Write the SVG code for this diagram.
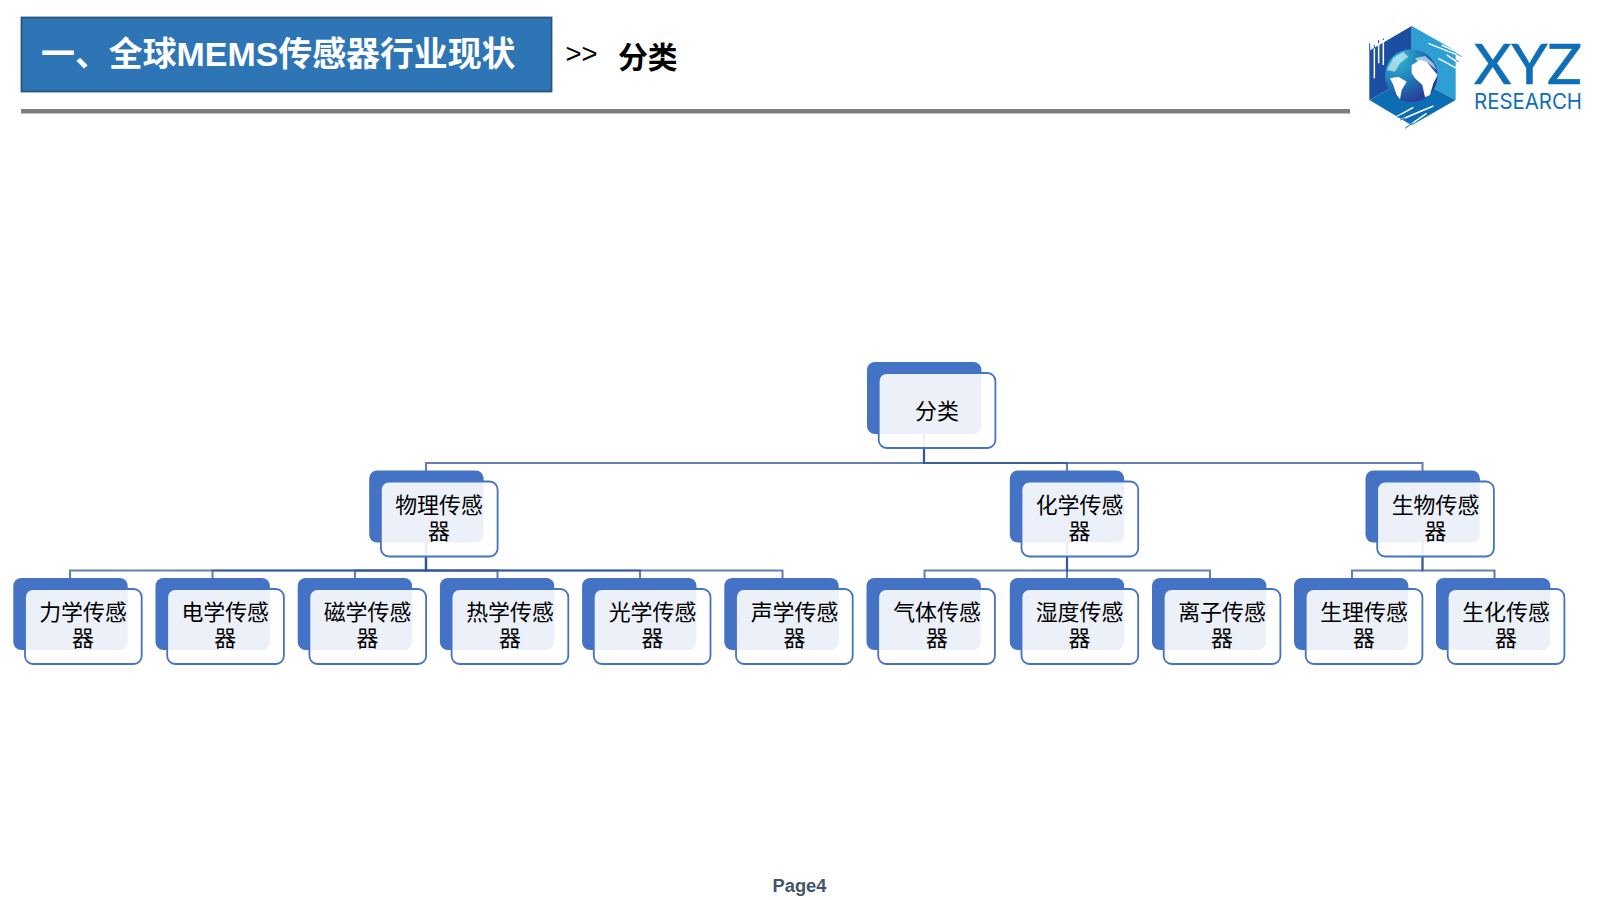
<svg xmlns="http://www.w3.org/2000/svg" width="1600" height="900" viewBox="0 0 1600 900">
<style>
text{font-family:"Liberation Sans","Noto Sans CJK SC",sans-serif}
.back{fill:#4472c4}
.front{fill:#fff;fill-opacity:.9;stroke:#4472c4;stroke-width:1.8}
.t{font-family:"Noto Sans CJK SC","Liberation Sans",sans-serif;font-size:21.9px;fill:#000;text-anchor:middle}
.e{fill:none;stroke:#2f5597;stroke-opacity:.75;stroke-width:2.1}
</style>
<defs>
<g id="lv"><rect class="back" width="114.4" height="72" rx="8"/><rect class="front" x="11.7" y="11" width="116.7" height="75" rx="8"/></g>
<radialGradient id="globe" cx=".2" cy=".15" r="1.05"><stop offset="0" stop-color="#35bfd2"/><stop offset=".5" stop-color="#1d76b6"/><stop offset="1" stop-color="#30278c"/></radialGradient>
</defs>
<rect width="1600" height="900" fill="#fff"/>
<g id="header">
<rect x="21.500" y="17.500" width="530" height="74" fill="#2e75b6" stroke="#27577f" stroke-width="1.800"/>
<text x="41" y="66" font-size="33.900" font-weight="700" fill="#fff">一、全球MEMS传感器行业现状</text>
<text x="565.500" y="63" font-size="27.500" fill="#000">&gt;&gt;</text>
<text x="618" y="68" font-size="29.800" font-weight="700" fill="#000">分类</text>
<rect x="21" y="109" width="1329" height="4.500" fill="#7f7f7f"/>
</g>
<g id="logo">
<g transform="translate(1365 20) scale(.3333)">
<path d="M140 18L13 92V240L140 170Z" fill="#1c4fa3"/>
<path d="M140 18L272 92V240L140 170Z" fill="#2d9fd4"/>
<path d="M13 240L140 170L272 240L140 316Z" fill="#0d6db4"/>
<circle cx="139" cy="167" r="79" fill="url(#globe)"/>
<path d="M140 135L165 120L185 125L205 150L218 165L205 190L195 225L180 232L172 195L150 175L140 160Z" fill="#fff"/>
<path d="M75 175L100 170L125 185L110 210L105 238L95 225L85 195Z" fill="#fff"/>
<path d="M65 150L85 115L115 95L130 110L105 130L90 155Z" fill="#fff" fill-opacity=".55"/>
<path d="M150 115L180 108L205 130L215 150L190 130L160 128Z" fill="#fff" fill-opacity=".6"/>
<g fill="none" stroke="#fff" stroke-width="4.500">
<path d="M28 85V175M41 70V130M55 60V135"/>
<path d="M190 70L290 110M230 75L285 100M220 115L275 145M245 105L275 125"/>
<path d="M95 290L145 262M105 300L205 258M120 325L185 280"/>
</g>
<g fill="none" stroke-width="3">
<path d="M14 70V92M28 75V85M41 60V70M55 55V60" stroke="#1c4fa3"/>
<path d="M272 100L290 110M272 120L282 125" stroke="#2d9fd4"/>
<path d="M96 292L110 285M120 325L145 308M106 300L120 294" stroke="#0d6db4"/>
</g>
</g>
<text x="1474" y="84" font-size="57" fill="#0e6eb8" stroke="#0e6eb8" stroke-width="0.700" textLength="108" lengthAdjust="spacingAndGlyphs" style="font-family:Lato,sans-serif">XYZ</text>
<text x="1474" y="109" font-size="21" fill="#0e6eb8" textLength="108" lengthAdjust="spacingAndGlyphs" style="font-family:Inter,sans-serif">RESEARCH</text>
</g>
<g id="connectors">
<path class="e" d="M924 434V463H426V471"/>
<path class="e" d="M924 434V463H1067V471"/>
<path class="e" d="M924 434V463H1422.500V471"/>
<path class="e" d="M426 542V570.500H70V578"/>
<path class="e" d="M426 542V570.500H212.500V578"/>
<path class="e" d="M426 542V570.500H355V578"/>
<path class="e" d="M426 542V570.500H497.500V578"/>
<path class="e" d="M426 542V570.500H640V578"/>
<path class="e" d="M426 542V570.500H782.500V578"/>
<path class="e" d="M1067 542V570.500H924.500V578"/>
<path class="e" d="M1067 542V578"/>
<path class="e" d="M1067 542V570.500H1210V578"/>
<path class="e" d="M1422.500 542V570.500H1352V578"/>
<path class="e" d="M1422.500 542V570.500H1494.500V578"/>
</g>
<g id="n-root"><use href="#lv" x="867" y="362"/><text class="t" x="937" y="418.500">分类</text></g>
<g id="n-phys"><use href="#lv" x="369.200" y="470.500"/><text class="t" x="439" y="513">物理传感</text><text class="t" x="439" y="539">器</text></g>
<g id="n-chem"><use href="#lv" x="1009.800" y="470.500"/><text class="t" x="1079.500" y="513">化学传感</text><text class="t" x="1079.500" y="539">器</text></g>
<g id="n-bio"><use href="#lv" x="1365.500" y="470.500"/><text class="t" x="1435.500" y="513">生物传感</text><text class="t" x="1435.500" y="539">器</text></g>
<g id="n-1"><use href="#lv" x="13.300" y="578"/><text class="t" x="83" y="620">力学传感</text><text class="t" x="83" y="646">器</text></g>
<g id="n-2"><use href="#lv" x="155.500" y="578"/><text class="t" x="225.200" y="620">电学传感</text><text class="t" x="225.200" y="646">器</text></g>
<g id="n-3"><use href="#lv" x="297.700" y="578"/><text class="t" x="367.500" y="620">磁学传感</text><text class="t" x="367.500" y="646">器</text></g>
<g id="n-4"><use href="#lv" x="439.900" y="578"/><text class="t" x="510" y="620">热学传感</text><text class="t" x="510" y="646">器</text></g>
<g id="n-5"><use href="#lv" x="582.100" y="578"/><text class="t" x="652.500" y="620">光学传感</text><text class="t" x="652.500" y="646">器</text></g>
<g id="n-6"><use href="#lv" x="724.300" y="578"/><text class="t" x="794.500" y="620">声学传感</text><text class="t" x="794.500" y="646">器</text></g>
<g id="n-7"><use href="#lv" x="866.500" y="578"/><text class="t" x="937" y="620">气体传感</text><text class="t" x="937" y="646">器</text></g>
<g id="n-8"><use href="#lv" x="1009.800" y="578"/><text class="t" x="1079.500" y="620">湿度传感</text><text class="t" x="1079.500" y="646">器</text></g>
<g id="n-9"><use href="#lv" x="1152" y="578"/><text class="t" x="1222" y="620">离子传感</text><text class="t" x="1222" y="646">器</text></g>
<g id="n-10"><use href="#lv" x="1294" y="578"/><text class="t" x="1364" y="620">生理传感</text><text class="t" x="1364" y="646">器</text></g>
<g id="n-11"><use href="#lv" x="1436" y="578"/><text class="t" x="1506" y="620">生化传感</text><text class="t" x="1506" y="646">器</text></g>
<text id="page" x="799.500" y="892" font-size="18.300" font-weight="700" fill="#44546a" text-anchor="middle">Page4</text>
</svg>
